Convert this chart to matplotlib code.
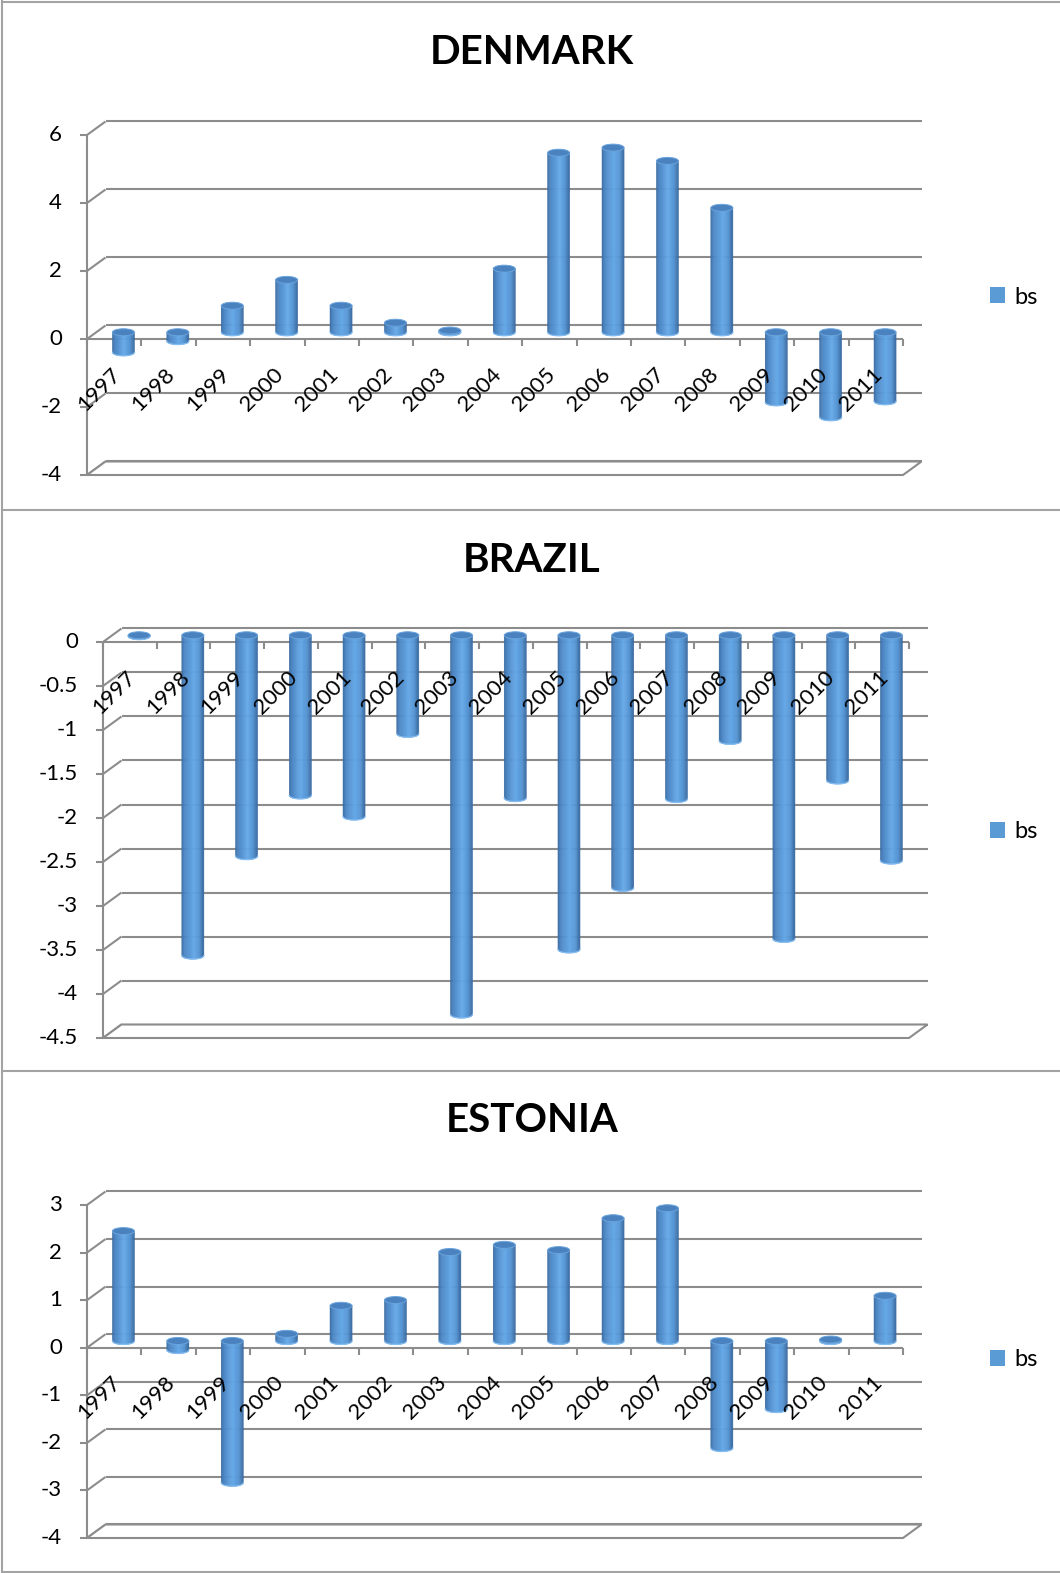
import numpy as np
import matplotlib.pyplot as plt
from matplotlib.collections import PolyCollection
from matplotlib.colors import LinearSegmentedColormap
from matplotlib.lines import Line2D
from matplotlib.patches import Ellipse, Patch, Polygon
from matplotlib.transforms import offset_copy

plt.rcParams['font.family'] = ['Lato', 'DejaVu Sans']

# Yearly "bs" values per country
years = ['1997', '1998', '1999', '2000', '2001', '2002', '2003', '2004',
         '2005', '2006', '2007', '2008', '2009', '2010', '2011']
denmark_bs = [-0.59, -0.26, 0.78, 1.54, 0.78, 0.28, 0.05, 1.87,
              5.28, 5.43, 5.04, 3.66, -2.06, -2.5, -2.03]
brazil_bs = [-0.01, -3.64, -2.51, -1.82, -2.06, -1.12, -4.31, -1.85,
             -3.57, -2.87, -1.86, -1.2, -3.45, -1.65, -2.56]
estonia_bs = [2.31, -0.19, -2.98, 0.15, 0.74, 0.86, 1.87, 2.02,
              1.91, 2.58, 2.79, -2.25, -1.43, 0.03, 0.95]

denmark_ticks = [-4, -2, 0, 2, 4, 6]
brazil_ticks = [-4.5, -4, -3.5, -3, -2.5, -2, -1.5, -1, -0.5, 0]
estonia_ticks = [-4, -3, -2, -1, 0, 1, 2, 3]

W, H = 1060, 1573
fig = plt.figure(figsize=(W / 100, H / 100), dpi=100)

GRID = '#8c8c8c'
BLUE = '#5b9bd5'
CAP = '#4a82c0'
CAP_EDGE = '#6aa4dc'
RIM = '#86bdf0'
DEPTH = (18.5, 13.5)      # back-wall offset, pixels
HALF_W, RY = 11, 3.5      # cylinder half width / cap radius, pixels
shade = LinearSegmentedColormap.from_list(
    'cyl', [(0, '#3a6a9e'), (0.12, '#4a84c2'), (0.55, '#64a8e8'),
            (0.82, '#5393d2'), (1, '#3a6a9e')])


def pix(ax, dx, dy):
    """Pixel offset -> data offset for this axes."""
    inv = ax.transData.inverted()
    (x0, y0), (x1, y1) = inv.transform([(0, 0), (dx, dy)])
    return x1 - x0, y1 - y0


def line(ax, xs, ys, z=1):
    ax.add_line(Line2D(xs, ys, color=GRID, lw=1.5, clip_on=False,
                       zorder=z, solid_capstyle='butt'))


def cylinder(ax, c, v, w, ry, shift):
    # shaded body in vertical strips, light rim at the lower end, cap on top
    bottom, top = min(v, 0) + shift, max(v, 0) + shift

    def curve(x):
        return bottom - ry * np.sqrt(np.clip(1 - ((x - c) / w) ** 2, 0, 1))

    n = 24
    edges = np.linspace(c - w, c + w, n + 1)
    polys, cols = [], []
    for i in range(n):
        xs = np.linspace(edges[i], edges[i + 1], 4)
        polys.append([(edges[i], top)] + list(zip(xs, curve(xs))) + [(edges[i + 1], top)])
        cols.append(shade((i + 0.5) / n))
    ax.add_collection(PolyCollection(polys, facecolors=cols, edgecolors=cols,
                                     linewidths=0.4, clip_on=False, zorder=3))
    xs = np.linspace(c - w, c + w, 60)
    ax.plot(xs, curve(xs), color=RIM, lw=0.9, clip_on=False, zorder=3.1)
    ax.add_patch(Ellipse((c, top), 2 * w, 2 * ry, facecolor=CAP, edgecolor=CAP_EDGE,
                         lw=0.7, clip_on=False, zorder=3.2))


def panel(frame, title, title_y, legend_y, values, ticks):
    left, top, right, bottom = frame
    ax = fig.add_axes([left / W, 1 - bottom / H, (right - left) / W, (bottom - top) / H])
    n = len(values)
    lo, hi = min(ticks), max(ticks)
    ax.set_xlim(0, n)
    ax.set_ylim(lo, hi)
    ax.axis('off')

    dx, dy = pix(ax, *DEPTH)
    tx, ty = pix(ax, 7, 7)

    # side wall diagonals, back wall gridlines and value ticks
    for t in ticks:
        line(ax, [0, dx], [t, t + dy])
        line(ax, [dx, n + dx], [t + dy, t + dy])
        line(ax, [-tx, 0], [t, t], z=2)
        ax.text(0, t, f'{t:g}', transform=offset_copy(ax.transData, fig, x=-25, y=0, units='dots'),
                ha='right', va='center', fontsize=16)

    # floor outline
    ax.add_patch(Polygon([(0, lo), (n, lo), (n + dx, lo + dy), (dx, lo + dy)],
                         closed=True, facecolor='white', edgecolor=GRID, lw=1.5,
                         clip_on=False, zorder=1.5))
    # value axis and category axis
    line(ax, [0, 0], [lo, hi], z=2)
    line(ax, [0, n], [0, 0], z=2)
    for k in range(n + 1):
        line(ax, [k, k], [0, -ty], z=2)

    # bars stand on the middle depth plane
    w, ry = pix(ax, HALF_W, RY)
    for i, v in enumerate(values):
        cylinder(ax, i + 0.5 + dx / 2, v, w, ry, dy / 2)

    for i, lab in enumerate(years):
        ax.text(i + 0.5, 0, lab, rotation=45, rotation_mode='anchor', ha='right', va='center',
                transform=offset_copy(ax.transData, fig, x=3, y=-32, units='dots'),
                fontsize=16, zorder=5)

    fig.text(532 / W, 1 - title_y / H, title, ha='center', va='center',
             fontsize=29, fontweight='bold')
    ax.legend(handles=[Patch(facecolor=BLUE)], labels=['bs'], loc='center left',
              bbox_to_anchor=(990 / W, 1 - legend_y / H), bbox_transform=fig.transFigure,
              frameon=False, fontsize=17, handlelength=0.65, handleheight=0.65,
              handletextpad=0.4, borderpad=0, borderaxespad=0)
    return ax


panel((87, 135, 903, 475), 'DENMARK', 52, 297, denmark_bs, denmark_ticks)
panel((103, 642, 909, 1038), 'BRAZIL', 561, 832, brazil_bs, brazil_ticks)
panel((87, 1205, 903, 1538), 'ESTONIA', 1120, 1360, estonia_bs, estonia_ticks)

# chart frames
for y in (1.5, 510, 1071, 1571.5):
    fig.add_artist(Line2D([2 / W, 1], [1 - y / H, 1 - y / H], color='#a3a3a3', lw=1.5,
                          transform=fig.transFigure))
fig.add_artist(Line2D([2 / W, 2 / W], [0, 1], color='#a3a3a3', lw=1.5, transform=fig.transFigure))

fig.savefig('out.png', dpi=100)
